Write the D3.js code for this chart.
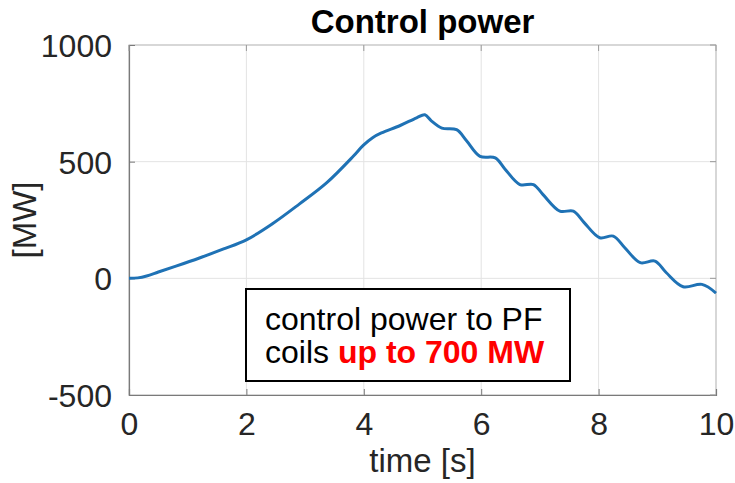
<!DOCTYPE html>
<html>
<head>
<meta charset="utf-8">
<script src="https://cdn.jsdelivr.net/npm/d3@7"></script>
<style>
  body { margin: 0; background: #fff; }
  text { font-family: "Liberation Sans", Arial, Helvetica, sans-serif; }
</style>
</head>
<body>
<div id="chart"></div>
<script>
const time = [0, 0.15, 0.3, 0.5, 0.8, 1.2, 1.6, 2.0, 2.45, 2.9, 3.37, 3.82, 3.99, 4.15, 4.3, 4.62, 4.9, 5.04, 5.15, 5.33, 5.58, 5.75, 5.98, 6.24, 6.4, 6.66, 6.89, 7.05, 7.34, 7.57, 7.75, 8.02, 8.25, 8.45, 8.71, 8.96, 9.15, 9.44, 9.76, 10.0];
const power = [0, 2, 10, 27, 52, 87, 125, 165, 235, 318, 410, 523, 570, 603, 623, 655, 688, 701, 675, 644, 637, 590, 523, 516, 470, 402, 402, 360, 288, 288, 240, 174, 181, 130, 67, 74, 25, -36, -26, -63];
const xTicks = [0, 2, 4, 6, 8, 10];
const yTicks = [-500, 0, 500, 1000];

const width = 735, height = 483;
const margin = { top: 45, right: 19, bottom: 88, left: 129 };

const svg = d3.select("#chart")
    .append("svg")
    .attr("width", width)
    .attr("height", height);

const x = d3.scaleLinear().domain([0, 10]).range([margin.left, width - margin.right]);
const y = d3.scaleLinear().domain([-500, 1000]).range([height - margin.bottom, margin.top]);

// grid
svg.append("g")
    .selectAll("line")
    .data(xTicks)
    .join("line")
    .attr("x1", d => x(d)).attr("x2", d => x(d))
    .attr("y1", y(-500)).attr("y2", y(1000))
    .attr("stroke", "#e3e3e3").attr("stroke-width", 1);

svg.append("g")
    .selectAll("line")
    .data(yTicks)
    .join("line")
    .attr("x1", x(0)).attr("x2", x(10))
    .attr("y1", d => y(d)).attr("y2", d => y(d))
    .attr("stroke", "#e3e3e3").attr("stroke-width", 1);

// box
svg.append("rect")
    .attr("x", x(0)).attr("y", y(1000))
    .attr("width", x(10) - x(0)).attr("height", y(-500) - y(1000))
    .attr("fill", "none").attr("stroke", "#bdbdbd").attr("stroke-width", 1);

const xAxis = svg.append("g")
    .attr("transform", "translate(0," + y(-500) + ")")
    .call(d3.axisBottom(x).tickValues(xTicks).tickSize(-6).tickPadding(17).tickFormat(d => String(d)));

const yAxis = svg.append("g")
    .attr("transform", "translate(" + x(0) + ",0)")
    .call(d3.axisLeft(y).tickValues(yTicks).tickSize(-6).tickPadding(17).tickFormat(d => String(d)));

[xAxis, yAxis].forEach(function(ax) {
    ax.select(".domain").attr("stroke", "#7a7a7a").attr("stroke-width", 1.2);
    ax.selectAll(".tick line").attr("stroke", "#7a7a7a");
    ax.selectAll(".tick text")
        .attr("font-size", "32px")
        .attr("fill", "#262626")
        .attr("font-family", "'Liberation Sans', Arial, sans-serif");
});
xAxis.selectAll(".tick text").attr("dy", "0.72em");
yAxis.selectAll(".tick text").attr("dy", "0.36em");

// right and top mirror ticks
svg.append("g")
    .selectAll("line")
    .data(yTicks)
    .join("line")
    .attr("x1", x(10)).attr("x2", x(10) - 6)
    .attr("y1", d => y(d)).attr("y2", d => y(d))
    .attr("stroke", "#9a9a9a");
svg.append("g")
    .selectAll("line")
    .data(xTicks)
    .join("line")
    .attr("x1", d => x(d)).attr("x2", d => x(d))
    .attr("y1", y(1000)).attr("y2", y(1000) + 6)
    .attr("stroke", "#9a9a9a");

// line
const line = d3.line()
    .x((d, i) => x(time[i]))
    .y(d => y(d))
    .curve(d3.curveCatmullRom.alpha(0.5));

svg.append("path")
    .datum(power)
    .attr("d", line)
    .attr("fill", "none")
    .attr("stroke", "#1f72b5")
    .attr("stroke-width", 3)
    .attr("stroke-linejoin", "round");

// title and labels
svg.append("text")
    .attr("x", (x(0) + x(10)) / 2).attr("y", 33)
    .attr("text-anchor", "middle")
    .attr("font-size", "33px").attr("font-weight", "bold")
    .attr("fill", "#000")
    .text("Control power");

svg.append("text")
    .attr("x", (x(0) + x(10)) / 2).attr("y", 472)
    .attr("text-anchor", "middle")
    .attr("font-size", "33px")
    .attr("fill", "#262626")
    .text("time [s]");

svg.append("text")
    .attr("transform", "translate(36," + y(250) + ") rotate(-90)")
    .attr("text-anchor", "middle")
    .attr("font-size", "33px")
    .attr("fill", "#262626")
    .text("[MW]");

// annotation box
const box = svg.append("g");
box.append("rect")
    .attr("x", 246).attr("y", 289)
    .attr("width", 324).attr("height", 92)
    .attr("fill", "#fff").attr("stroke", "#000").attr("stroke-width", 2);

box.append("text")
    .attr("x", 265).attr("y", 330)
    .attr("font-size", "32px")
    .attr("fill", "#000")
    .text("control power to PF");

const t2 = box.append("text")
    .attr("x", 265).attr("y", 363)
    .attr("font-size", "32px")
    .attr("fill", "#000");
t2.append("tspan").text("coils ");
t2.append("tspan").attr("font-weight", "bold").attr("fill", "#ff0000").text("up to 700 MW");
</script>
</body>
</html>
